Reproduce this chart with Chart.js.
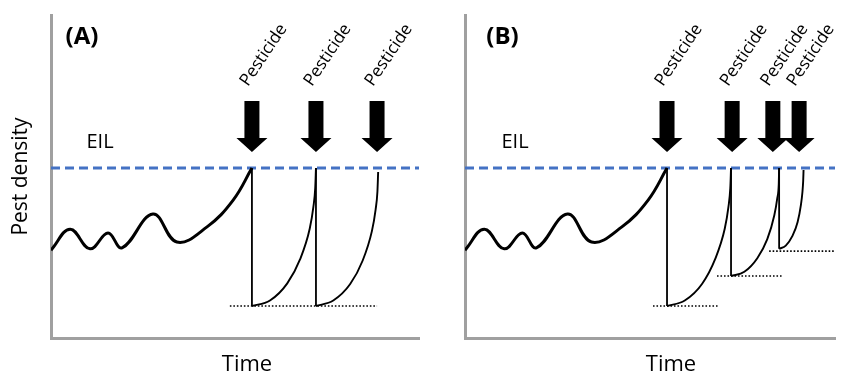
<!DOCTYPE html>
<html>
<head>
<meta charset="utf-8">
<script src="https://cdn.jsdelivr.net/npm/chart.js"></script>
</head>
<body style="margin:0;background:#fff;">
<div style="position:relative;width:845px;height:375px;">
  <canvas id="chartA" width="425" height="375" style="position:absolute;left:0;top:0;"></canvas>
  <canvas id="chartB" width="420" height="375" style="position:absolute;left:425px;top:0;"></canvas>
</div>
<script>
  // pest density before the first spray (same in both panels)
  const waveX = [0, 5.2, 10.6, 15.5, 19.3, 27.7, 34.2, 42.4, 49.5, 54.6];
  const waveY = [27.2, 33.7, 27.6, 32.5, 27.9, 38.4, 29.7, 34.4, 42.7, 52.6];
  const eil = 52.6;

  // panel A - every spray knocks the pests down to the same level
  const sprayA = [54.6, 72.0, 88.6];
  const dropAtA = [54.6, 72.0];
  const dropToA = [9.9, 9.9];
  const regrowA1X = [54.6, 59.5, 64.2, 67.7, 70.3, 71.3, 71.8, 72.0];
  const regrowA1Y = [9.9, 11.6, 16.9, 24.4, 33.8, 40.6, 46.4, 52.6];
  const regrowA2X = [72.0, 76.7, 81.3, 84.7, 87.2, 88.2, 88.7, 88.9];
  const regrowA2Y = [9.9, 11.6, 16.7, 24.0, 33.1, 39.7, 45.3, 51.4];
  const floorFromA = [48.6];
  const floorToA = [88.6];
  const floorLevelA = [9.9];

  // panel B - resistance builds up, each spray kills less
  const sprayB = [54.6, 72.2, 83.2, 90.3];
  const dropAtB = [54.6, 71.9, 84.9];
  const dropToB = [9.9, 19.2, 27.6];
  const regrowB1X = [54.6, 59.4, 64.1, 67.6, 70.2, 71.2, 71.7, 71.9];
  const regrowB1Y = [9.9, 11.6, 16.8, 24.4, 33.8, 40.6, 46.4, 52.6];
  const regrowB2X = [71.9, 75.5, 79.0, 81.7, 83.6, 84.4, 84.8, 84.9];
  const regrowB2Y = [19.2, 20.5, 24.7, 30.6, 38.0, 43.3, 47.7, 52.6];
  const regrowB3X = [84.9, 86.7, 88.5, 89.9, 90.8, 91.2, 91.4, 91.5];
  const regrowB3Y = [27.6, 28.6, 31.6, 35.9, 41.3, 45.2, 48.6, 52.0];
  const floorFromB = [50.8, 68.1, 82.2];
  const floorToB = [68.6, 85.9, 100];
  const floorLevelB = [9.9, 19.2, 26.9];

  const FONT = '"Open Sans", sans-serif';
  const AXIS = '#a0a0a0';

  function pts(xs, ys) {
    return xs.map((x, i) => ({x: x, y: ys[i]}));
  }

  function curve(xs, ys, w, extra) {
    return Object.assign({
      data: pts(xs, ys),
      borderColor: '#000',
      borderWidth: w,
      pointRadius: 0,
      fill: false
    }, extra || {});
  }

  function buildSets(regrows, dropAt, dropTo, floorFrom, floorTo, floorLevel) {
    const sets = [];
    sets.push(curve([0, 100], [eil, eil], 3, {borderColor: '#4472c4', borderDash: [9, 5], order: 5}));
    floorFrom.forEach((f, i) => {
      sets.push(curve([f, floorTo[i]], [floorLevel[i], floorLevel[i]], 1.6, {borderDash: [1.6, 1.9], order: 4}));
    });
    sets.push(curve(waveX, waveY, 3, {tension: 0.4, order: 1}));
    dropAt.forEach((t, i) => {
      sets.push(curve([t, t], [eil, dropTo[i]], 1.8, {order: 2}));
    });
    regrows.forEach(r => {
      sets.push(curve(r[0], r[1], 1.9, {cubicInterpolationMode: 'monotone', order: 2}));
    });
    return sets;
  }

  // arrows, "Pesticide" labels, panel letter, EIL and Time
  const marks = {
    id: 'marks',
    afterDraw(chart, args, o) {
      const {ctx, chartArea: a, scales: {x, y}} = chart;
      ctx.save();
      ctx.fillStyle = '#000';
      const top = y.getPixelForValue(73.4);
      const base = y.getPixelForValue(61.9);
      const tip = y.getPixelForValue(57.6);
      o.sprays.forEach(t => {
        const px = x.getPixelForValue(t);
        ctx.beginPath();
        ctx.moveTo(px - 7.5, top);
        ctx.lineTo(px + 7.5, top);
        ctx.lineTo(px + 7.5, base);
        ctx.lineTo(px + 15.5, base);
        ctx.lineTo(px, tip);
        ctx.lineTo(px - 15.5, base);
        ctx.lineTo(px - 7.5, base);
        ctx.closePath();
        ctx.fill();

        ctx.save();
        ctx.translate(px - 4, 87);
        ctx.rotate(-56 * Math.PI / 180);
        ctx.font = '17px ' + FONT;
        ctx.textAlign = 'left';
        ctx.textBaseline = 'alphabetic';
        ctx.fillText('Pesticide', 0, 0);
        ctx.restore();
      });

      ctx.textAlign = 'center';
      ctx.textBaseline = 'middle';
      ctx.font = 'bold 24px ' + FONT;
      ctx.fillText(o.letter, a.left + o.letterX, 37);
      ctx.font = '20px ' + FONT;
      ctx.fillText('EIL', a.left + o.eilX, 142);
      ctx.font = '22px ' + FONT;
      ctx.fillText('Time', a.left + o.timeX, 365);
      ctx.restore();
    }
  };

  function makeChart(id, sets, yWidth, padRight, showY, markOpts) {
    return new Chart(document.getElementById(id), {
      type: 'line',
      data: {datasets: sets},
      plugins: [marks],
      options: {
        responsive: false,
        animation: false,
        layout: {padding: {top: 15, right: padRight, left: 0, bottom: 0}},
        plugins: {
          legend: {display: false},
          tooltip: {enabled: false},
          marks: markOpts
        },
        scales: {
          x: {
            type: 'linear', min: 0, max: 100,
            ticks: {display: false},
            grid: {display: false},
            border: {color: AXIS, width: 3},
            afterFit: s => { s.height = 37; }
          },
          y: {
            min: 0, max: 100,
            ticks: {display: false},
            grid: {display: false},
            border: {color: AXIS, width: 3},
            title: {
              display: showY,
              text: 'Pest density',
              color: '#000',
              font: {family: FONT, size: 21, lineHeight: 1},
              padding: {top: 11, bottom: 0}
            },
            afterFit: s => { s.width = yWidth; }
          }
        }
      }
    });
  }

  makeChart('chartA',
    buildSets([[regrowA1X, regrowA1Y], [regrowA2X, regrowA2Y]], dropAtA, dropToA, floorFromA, floorToA, floorLevelA),
    51, 6, true,
    {sprays: sprayA, letter: '(A)', letterX: 31, eilX: 49, timeX: 196});

  makeChart('chartB',
    buildSets([[regrowB1X, regrowB1Y], [regrowB2X, regrowB2Y], [regrowB3X, regrowB3Y]], dropAtB, dropToB, floorFromB, floorToB, floorLevelB),
    40, 10, false,
    {sprays: sprayB, letter: '(B)', letterX: 37.5, eilX: 50, timeX: 206});
</script>
</body>
</html>
